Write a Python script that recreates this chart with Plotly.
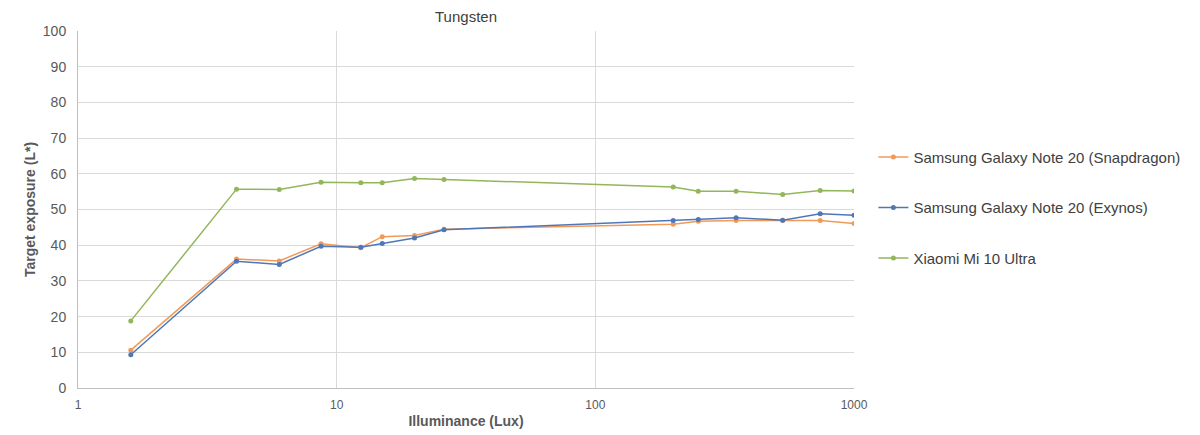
import plotly.graph_objects as go

lux = [1.6, 4.1, 6, 8.7, 12.4, 15, 20, 26, 200, 250, 350, 530, 740, 1000]
snapdragon = [10.6, 36.1, 35.6, 40.4, 39.3, 42.4, 42.7, 44.5, 45.9, 46.7, 46.9, 46.9, 46.9, 46.1]
exynos = [9.3, 35.5, 34.6, 39.7, 39.4, 40.5, 42.0, 44.3, 46.9, 47.2, 47.7, 47.0, 48.8, 48.4]
xiaomi = [18.8, 55.7, 55.6, 57.6, 57.5, 57.5, 58.7, 58.4, 56.3, 55.1, 55.1, 54.2, 55.3, 55.2]

series = [
    ("Samsung Galaxy Note 20 (Snapdragon)", snapdragon, "#F09A59"),
    ("Samsung Galaxy Note 20 (Exynos)", exynos, "#4F77B8"),
    ("Xiaomi Mi 10 Ultra", xiaomi, "#93B65A"),
]

fig = go.Figure()
for i, (name, vals, col) in enumerate(series):
    fig.add_trace(go.Scatter(
        x=lux, y=vals, name=name, mode="lines+markers",
        line=dict(color=col, width=1.5),
        marker=dict(color=col, size=5),
        legendgroup=f"g{i}",
    ))

fig.update_layout(
    width=1192, height=427,
    margin=dict(l=70, r=346, t=23, b=47, autoexpand=False),
    paper_bgcolor="white", plot_bgcolor="white",
    font=dict(family="Liberation Sans, Arial, sans-serif", size=13, color="#595959"),
    title=dict(text="Tungsten", x=0.5, xref="paper", y=1.0, yanchor="top",
               pad=dict(t=3),
               font=dict(size=15, color="#404040")),
    showlegend=True,
    legend=dict(xref="container", yref="paper", x=0.726, y=0.505,
                xanchor="left", yanchor="middle",
                font=dict(size=15, color="#404040"), tracegroupgap=28,
                itemwidth=30),
    xaxis=dict(type="log", range=[0, 3], tickvals=[1, 10, 100, 1000],
               ticktext=["1", "10", "100", "1000"],
               tickfont=dict(size=12), automargin=False,
               showgrid=True, gridcolor="#D9D9D9", gridwidth=1,
               showline=True, linecolor="#BFBFBF", linewidth=1,
               ticks="", zeroline=False, ticklabelstandoff=6,
               title=dict(text="<b>Illuminance (Lux)</b>", standoff=4,
                          font=dict(size=14, color="#595959"))),
    yaxis=dict(range=[0, 100], dtick=10,
               tickfont=dict(size=14), automargin=False,
               showgrid=True, gridcolor="#D9D9D9", gridwidth=1,
               showline=True, linecolor="#BFBFBF", linewidth=1,
               ticks="", zeroline=False, ticklabelstandoff=8,
               title=dict(text="<b>Target exposure (L*)</b>", standoff=3,
                          font=dict(size=14, color="#595959"))),
)

fig.write_html("out.html")
